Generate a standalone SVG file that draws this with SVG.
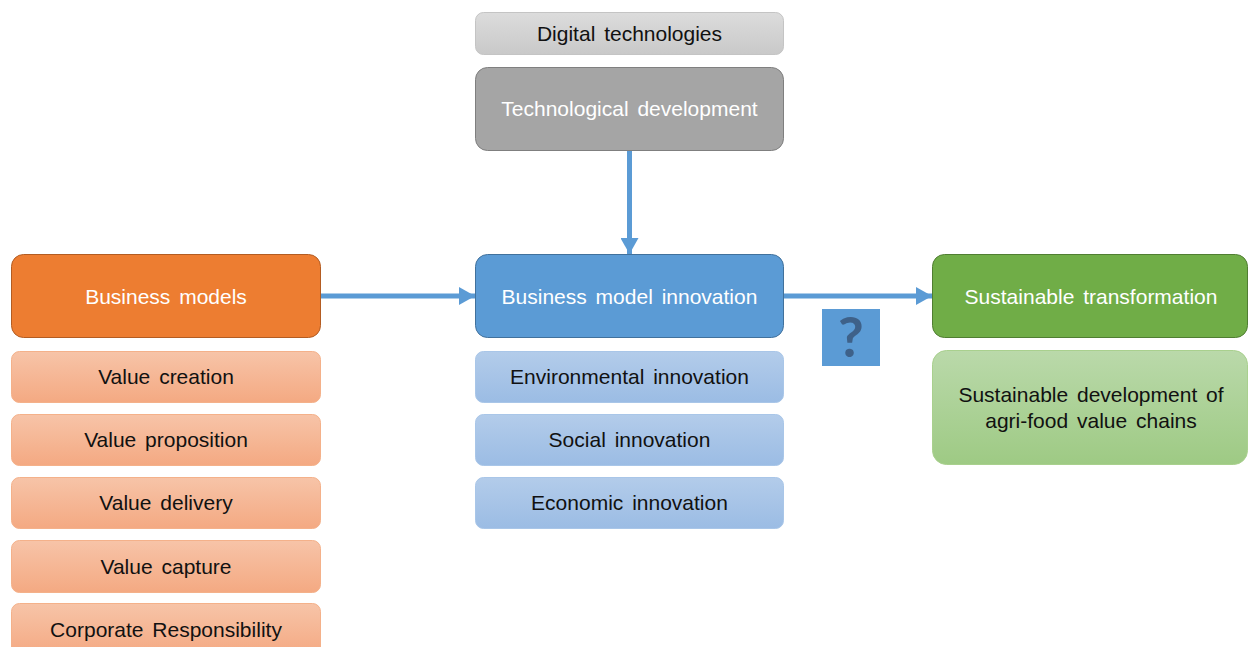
<svg xmlns="http://www.w3.org/2000/svg" width="1248" height="647" viewBox="0 0 1248 647">
  <defs>
    <linearGradient id="gGray" x1="0" y1="0" x2="0" y2="1">
      <stop offset="0" stop-color="#DCDCDC"/>
      <stop offset="1" stop-color="#C9C9C9"/>
    </linearGradient>
    <linearGradient id="gOrange" x1="0" y1="0" x2="0" y2="1">
      <stop offset="0" stop-color="#F7C4A8"/>
      <stop offset="1" stop-color="#F4A982"/>
    </linearGradient>
    <linearGradient id="gBlue" x1="0" y1="0" x2="0" y2="1">
      <stop offset="0" stop-color="#B3CCEA"/>
      <stop offset="1" stop-color="#9BBCE4"/>
    </linearGradient>
    <linearGradient id="gGreen" x1="0" y1="0" x2="0" y2="1">
      <stop offset="0" stop-color="#BAD9AA"/>
      <stop offset="1" stop-color="#9ECA84"/>
    </linearGradient>
    <marker id="arrow" markerUnits="userSpaceOnUse" markerWidth="18" markerHeight="18" refX="16" refY="9" orient="auto">
      <path d="M0,0 L16,9 L0,18 Z" fill="#5B9BD5"/>
    </marker>
    <style>
      text { font-family: "Liberation Sans", Arial, sans-serif; font-size: 21px; text-anchor: middle; word-spacing: 3px; }
      .dark { fill: #111; }
      .light { fill: #fff; }
      .main { stroke-width: 1; }
      .sub { stroke-width: 1; }
      .link { stroke: #5B9BD5; stroke-width: 5; fill: none; }
      .qmark { font-family: Lato, "Open Sans", sans-serif; font-size: 56px; font-weight: bold; fill: #3E6189; }
    </style>
  </defs>

  <!-- connectors -->
  <g id="connectors">
    <line class="link" x1="629.5" y1="150" x2="629.5" y2="254" marker-end="url(#arrow)"/>
    <line class="link" x1="320" y1="296" x2="475" y2="296" marker-end="url(#arrow)"/>
    <line class="link" x1="783" y1="296" x2="932" y2="296" marker-end="url(#arrow)"/>
  </g>

  <!-- technology column -->
  <g id="digital-technologies">
    <rect x="475.5" y="12.5" width="308" height="42" rx="8" fill="url(#gGray)" stroke="#C4C4C4" class="sub"/>
    <text x="629.5" y="41" class="dark">Digital technologies</text>
  </g>
  <g id="technological-development">
    <rect x="475.5" y="67.5" width="308" height="83" rx="12" fill="#A5A5A5" stroke="#7F7F7F" class="main"/>
    <text x="629.5" y="116" class="light">Technological development</text>
  </g>

  <!-- business models column -->
  <g id="business-models">
    <rect x="11.5" y="254.5" width="309" height="83" rx="12" fill="#ED7D31" stroke="#B35C22" class="main"/>
    <text x="166" y="303.5" class="light">Business models</text>
  </g>
  <g id="value-creation">
    <rect x="11.5" y="351.5" width="309" height="51" rx="8" fill="url(#gOrange)" stroke="#F4B18A" class="sub"/>
    <text x="166" y="383.5" class="dark">Value creation</text>
  </g>
  <g id="value-proposition">
    <rect x="11.5" y="414.5" width="309" height="51" rx="8" fill="url(#gOrange)" stroke="#F4B18A" class="sub"/>
    <text x="166" y="446.5" class="dark">Value proposition</text>
  </g>
  <g id="value-delivery">
    <rect x="11.5" y="477.5" width="309" height="51" rx="8" fill="url(#gOrange)" stroke="#F4B18A" class="sub"/>
    <text x="166" y="509.5" class="dark">Value delivery</text>
  </g>
  <g id="value-capture">
    <rect x="11.5" y="540.5" width="309" height="52" rx="8" fill="url(#gOrange)" stroke="#F4B18A" class="sub"/>
    <text x="166" y="573.5" class="dark">Value capture</text>
  </g>
  <g id="corporate-responsibility">
    <rect x="11.5" y="603.5" width="309" height="52" rx="8" fill="url(#gOrange)" stroke="#F4B18A" class="sub"/>
    <text x="166" y="637" class="dark">Corporate Responsibility</text>
  </g>

  <!-- innovation column -->
  <g id="business-model-innovation">
    <rect x="475.5" y="254.5" width="308" height="83" rx="12" fill="#5B9BD5" stroke="#41719C" class="main"/>
    <text x="629.5" y="303.5" class="light">Business model innovation</text>
  </g>
  <g id="environmental-innovation">
    <rect x="475.5" y="351.5" width="308" height="51" rx="8" fill="url(#gBlue)" stroke="#A9C6E8" class="sub"/>
    <text x="629.5" y="383.5" class="dark">Environmental innovation</text>
  </g>
  <g id="social-innovation">
    <rect x="475.5" y="414.5" width="308" height="51" rx="8" fill="url(#gBlue)" stroke="#A9C6E8" class="sub"/>
    <text x="629.5" y="446.5" class="dark">Social innovation</text>
  </g>
  <g id="economic-innovation">
    <rect x="475.5" y="477.5" width="308" height="51" rx="8" fill="url(#gBlue)" stroke="#A9C6E8" class="sub"/>
    <text x="629.5" y="509.5" class="dark">Economic innovation</text>
  </g>

  <!-- question mark badge -->
  <g id="question">
    <rect x="822" y="309" width="58" height="57" fill="#5B9BD5"/>
    <text x="851" y="357" class="qmark">?</text>
  </g>

  <!-- sustainability column -->
  <g id="sustainable-transformation">
    <rect x="932.5" y="254.5" width="315" height="83" rx="12" fill="#70AD47" stroke="#507E32" class="main"/>
    <text x="1091" y="303.5" class="light">Sustainable transformation</text>
  </g>
  <g id="agri-food-value-chains">
    <rect x="932.5" y="350.5" width="315" height="114" rx="14" fill="url(#gGreen)" stroke="#A9D08E" class="sub"/>
    <text x="1091" y="402" class="dark">Sustainable development of</text>
    <text x="1091" y="428" class="dark">agri-food value chains</text>
  </g>
</svg>
